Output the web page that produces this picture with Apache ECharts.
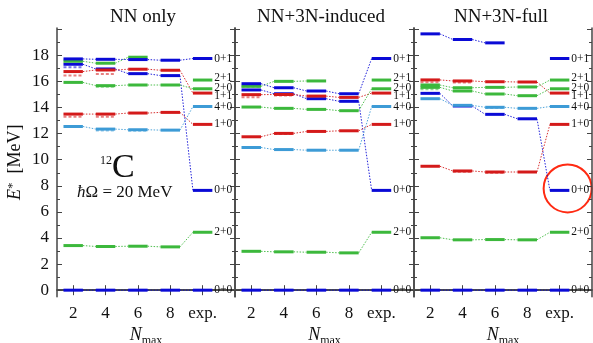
<!DOCTYPE html>
<html>
<head>
<meta charset="utf-8">
<script src="https://cdn.jsdelivr.net/npm/echarts@6/dist/echarts.min.js"></script>
<style>
  html, body { margin: 0; padding: 0; background: #fff; }
  #chart { width: 593px; height: 343px; }
</style>
</head>
<body>
<div id="chart"></div>
<script>
const nmaxValues = [2, 4, 6, 8];
const expX = 10;
const panelTitles = ['NN only', 'NN+3N-induced', 'NN+3N-full'];

// state rows: g.s., 2+0, 0+0 (Hoyle), 1+0, 4+0, 1+1, 2+0 (2nd), 2+1, 0+1
const stateLabels = ['0+0', '2+0', '0+0', '1+0', '4+0', '1+1', '2+0', '2+1', '0+1'];
const expEnergy = [0, 4.44, 7.65, 12.71, 14.08, 15.11, 15.44, 16.11, 17.76];
const labelShift = [0, 0, 0, 0, 0, 3, -1, -2, 0];

const nnOnly = [
  [0, 0, 0, 0],
  [3.42, 3.35, 3.37, 3.32],
  [17.32, 16.96, 16.6, 16.45],
  [13.5, 13.5, 13.58, 13.63],
  [12.55, 12.35, 12.3, 12.27],
  [16.76, 16.88, 16.94, 16.86],
  [15.93, 15.68, 15.73, 15.73],
  [17.55, 17.4, 17.86, null],
  [17.73, 17.7, 17.68, 17.63]
];
const nn3nInduced = [
  [0, 0, 0, 0],
  [2.98, 2.94, 2.91, 2.86],
  [15.35, 15.06, 14.68, 14.48],
  [11.76, 12.02, 12.17, 12.22],
  [10.94, 10.78, 10.73, 10.73],
  [14.99, 15.0, 14.88, 14.78],
  [14.04, 13.94, 13.86, 13.76],
  [15.63, 16.01, 16.04, null],
  [15.83, 15.52, 15.27, 15.06]
];
const nn3nFull = [
  [0, 0, 0, 0],
  [4.02, 3.86, 3.88, 3.86],
  [15.09, 14.12, 13.48, 13.14],
  [9.5, 9.14, 9.06, 9.06],
  [14.68, 14.17, 14.02, 13.94],
  [16.12, 16.04, 15.98, 15.96],
  [15.55, 15.27, 15.04, 14.91],
  [15.73, 15.52, 15.55, 15.58],
  [19.65, 19.22, 18.96, null]
];

// faint dashed levels just under some bars: [Nmax, energy, state row]
const nnOnlyGhost = [[2, 17.1, 2], [2, 16.45, 5], [2, 13.3, 3], [4, 16.58, 5], [4, 13.3, 3], [4, 15.6, 6], [4, 12.25, 4], [6, 12.22, 4]];
const nn3nInducedGhost = [[2, 14.8, 5], [2, 15.6, 7], [4, 14.93, 5], [4, 11.98, 3]];
const nn3nFullGhost = [[2, 15.94, 5], [2, 15.4, 6], [4, 15.92, 5], [4, 9.08, 3], [6, 9.0, 3], [6, 13.96, 4]];

const panels = [nnOnly, nn3nInduced, nn3nFull];
const ghosts = [nnOnlyGhost, nn3nInducedGhost, nn3nFullGhost];

const BLUE = '#0a0ad6', GREEN = '#3cb83c', RED = '#d41a1a', LBLUE = '#3d9bd6';
const stateColors = [BLUE, GREEN, BLUE, RED, LBLUE, RED, GREEN, GREEN, BLUE];

const FONT = '"Liberation Serif", "Times New Roman", serif';
const halfW = 0.6;
const frameColor = '#444';

const chart = echarts.init(document.getElementById('chart'), null, { renderer: 'canvas' });

const grids = [
  { left: 57, top: 28, width: 178, bottom: 46.3, outerBoundsMode: 'none' },
  { left: 235, top: 28, width: 179, bottom: 46.3, outerBoundsMode: 'none' },
  { left: 414, top: 28, width: 178, bottom: 46.3, outerBoundsMode: 'none' }
];

const majorY = [0, 2, 4, 6, 8, 10, 12, 14, 16, 18, 20];
const minorY = [1, 3, 5, 7, 9, 11, 13, 15, 17, 19];
const xTicks = [2, 4, 6, 8, 10];

const xAxes = [];
const yAxes = [];
grids.forEach((g, gi) => {
  xAxes.push({
    gridIndex: gi, type: 'value', min: 1, max: 12, position: 'bottom',
    axisLine: { show: true, lineStyle: { color: '#666', width: 2 } },
    axisTick: { inside: true, length: 5, customValues: xTicks, lineStyle: { color: frameColor } },
    axisLabel: {
      customValues: xTicks, margin: 8, color: '#111', fontFamily: FONT, fontSize: 17,
      formatter: v => (v === expX ? 'exp.' : String(v))
    },
    splitLine: { show: false },
    name: '{n|N}{m|max}', nameLocation: 'middle', nameGap: 21,
    nameTextStyle: {
      rich: {
        n: { fontFamily: FONT, fontSize: 18, fontStyle: 'italic', color: '#111', verticalAlign: 'bottom', padding: [0, 0, 2, 0] },
        m: { fontFamily: FONT, fontSize: 12, color: '#111', verticalAlign: 'bottom' }
      }
    }
  });
  xAxes.push({
    gridIndex: gi, type: 'value', min: 1, max: 12, position: 'top',
    axisLine: { show: true, lineStyle: { color: frameColor, width: 1.5 } },
    axisTick: { inside: true, length: 5, customValues: xTicks, lineStyle: { color: frameColor } },
    axisLabel: { show: false }, splitLine: { show: false }
  });
  ['left', 'right'].forEach(pos => {
    yAxes.push({
      gridIndex: gi, type: 'value', min: -0.5, max: 20.1, position: pos,
      axisLine: { show: true, lineStyle: { color: frameColor, width: 1.5 } },
      axisTick: { inside: true, length: 5, customValues: majorY, lineStyle: { color: frameColor } },
      axisLabel: (gi === 0 && pos === 'left')
        ? { customValues: majorY.slice(0, 10), margin: 8, color: '#111', fontFamily: FONT, fontSize: 17 }
        : { show: false },
      splitLine: { show: false },
      name: (gi === 0 && pos === 'left') ? '{e|E}{s|*}{t|  [MeV]}' : '',
      nameLocation: 'middle', nameGap: 33, nameRotate: 90,
      nameTextStyle: {
        rich: {
          e: { fontFamily: FONT, fontSize: 18, fontStyle: 'italic', color: '#111', verticalAlign: 'bottom' },
          s: { fontFamily: FONT, fontSize: 13, color: '#111', verticalAlign: 'bottom', padding: [0, 0, 5, 0] },
          t: { fontFamily: FONT, fontSize: 18, color: '#111', verticalAlign: 'bottom' }
        }
      }
    });
    yAxes.push({
      gridIndex: gi, type: 'value', min: -0.5, max: 20.1, position: pos,
      axisLine: { show: false },
      axisTick: { inside: true, length: 3, customValues: minorY, lineStyle: { color: frameColor } },
      axisLabel: { show: false }, splitLine: { show: false }
    });
  });
});

function levelSeries(gi, color, items, solid) {
  return {
    type: 'custom',
    xAxisIndex: gi * 2,
    yAxisIndex: gi * 4,
    silent: true,
    clip: false,
    data: items,
    renderItem: (params, api) => {
      const x = api.value(0), e = api.value(1);
      const a = api.coord([x - halfW, e]);
      const b = api.coord([x + halfW, e]);
      const children = [{
        type: 'line',
        shape: { x1: a[0], y1: a[1], x2: b[0], y2: b[1] },
        style: solid
          ? { stroke: color, lineWidth: 3 }
          : { stroke: color, lineWidth: 2, opacity: 0.55, lineDash: [3, 2] }
      }];
      const nx = api.value(2), ne = api.value(3);
      if (solid && isFinite(nx) && isFinite(ne)) {
        const c = api.coord([nx - halfW, ne]);
        children.push({
          type: 'line',
          shape: { x1: b[0], y1: b[1], x2: c[0], y2: c[1] },
          style: { stroke: color, lineWidth: 1, lineDash: [1.5, 1.5], opacity: 0.9 }
        });
      }
      const lbl = items[params.dataIndex].label;
      if (lbl) {
        children.push({
          type: 'text',
          style: {
            text: lbl.text, x: b[0] + 2, y: b[1] + lbl.dy,
            verticalAlign: 'middle', align: 'left',
            font: '11.5px ' + FONT, fill: '#111'
          }
        });
      }
      return { type: 'group', children: children };
    }
  };
}

const series = [];
panels.forEach((rows, gi) => {
  // ghost dashed levels first so the solid bars sit on top
  ghosts[gi].forEach(gh => {
    series.push(levelSeries(gi, stateColors[gh[2]], [{ value: [gh[0], gh[1]] }], false));
  });
  rows.forEach((vals, si) => {
    const pts = [];
    vals.forEach((v, k) => { if (v !== null) pts.push({ x: nmaxValues[k], e: v }); });
    const last = vals[vals.length - 1];
    const expPt = { x: expX, e: expEnergy[si], label: { text: stateLabels[si], dy: labelShift[si] } };
    const items = pts.map((p, k) => {
      const nxt = k < pts.length - 1 ? pts[k + 1] : (last !== null ? expPt : null);
      return { value: nxt ? [p.x, p.e, nxt.x, nxt.e] : [p.x, p.e] };
    });
    items.push({ value: [expPt.x, expPt.e], label: expPt.label });
    series.push(levelSeries(gi, stateColors[si], items, true));
  });
});

const titleCenters = [143, 321, 501];
const graphics = panelTitles.map((t, i) => ({
  type: 'text', x: titleCenters[i], y: 17,
  style: { text: t, font: '19px ' + FONT, fill: '#111', align: 'center', verticalAlign: 'middle' }
}));
graphics.push(
  { type: 'text', x: 100, y: 161, style: { text: '12', font: '12px ' + FONT, fill: '#111', align: 'left', verticalAlign: 'middle' } },
  { type: 'text', x: 112, y: 168, style: { text: 'C', font: '34px ' + FONT, fill: '#111', align: 'left', verticalAlign: 'middle' } },
  {
    type: 'text', x: 77, y: 193,
    style: {
      text: '{h|ħ}Ω = 20 MeV', font: '17px ' + FONT, fill: '#111', align: 'left', verticalAlign: 'middle',
      rich: { h: { font: 'italic 17px ' + FONT, fill: '#111' } }
    }
  }
);

chart.setOption({
  animation: false,
  backgroundColor: '#fff',
  grid: grids,
  xAxis: xAxes,
  yAxis: yAxes,
  series: series,
  graphic: graphics
});

// red circle around the experimental Hoyle state in the last panel
const hoyle = chart.convertToPixel({ xAxisIndex: 4, yAxisIndex: 8 }, [expX, expEnergy[2]]);
graphics.push({
  type: 'circle',
  shape: { cx: hoyle[0] + 8, cy: hoyle[1] - 2, r: 24 },
  style: { fill: 'none', stroke: '#ff2a12', lineWidth: 2 }
});
chart.setOption({ graphic: graphics });
</script>
</body>
</html>
